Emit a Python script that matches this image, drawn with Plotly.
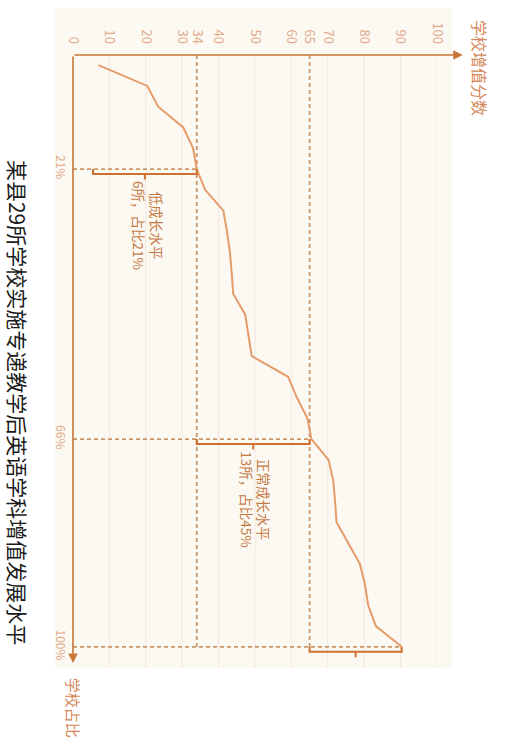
import plotly.graph_objects as go

# ---- data ----
school_rank = list(range(1, 30))
growth_score = [7.0, 20.4, 23.4, 30.3, 33.0, 34.0, 36.3, 41.3, 42.3, 43.1,
                43.6, 44.0, 47.3, 48.2, 49.1, 59.1, 61.5, 64.4, 65.5, 70.2,
                71.5, 72.0, 72.4, 75.6, 78.8, 80.2, 81.1, 83.2, 90.3]
score_ticks = [0, 10, 20, 30, 34, 40, 50, 60, 65, 70, 80, 90, 100]
grid_vals = [10, 20, 30, 40, 50, 60, 70, 80, 90, 100]
pct_rank = [6, 19, 29]
pct_labels = ["21%", "66%", "100%"]
thresholds = [34, 65]
bracket_start = [5.5, 34, 65]
bracket_end = [34, 65, 90.3]
bracket_rank = [6, 19, 29]
level_names = ["低成长水平", "正常成长水平", "高成长水平"]
level_counts = ["6所，占比21%", "13所，占比45%", "10所，占比34%"]
title = "某县29所学校实施专递教学后英语学科增值发展水平"

FONT = "Noto Sans CJK SC"
AXIS = "#c8763a"
LINE = "#e59c6a"
DASH = "#c9966a"
BRACK = "#d07030"
TICK = "#e3a98a"
LABEL = "#c47a45"

Y_TOP, Y_BOT = 0.51, 30.02

fig = go.Figure()
fig.add_trace(go.Scatter(x=growth_score, y=school_rank, mode="lines",
                         line=dict(color=LINE, width=2), hoverinfo="skip",
                         showlegend=False))

shapes = []
# beige background
shapes.append(dict(type="rect", xref="paper", yref="paper",
                   x0=-0.0495, x1=1.041, y0=0, y1=1.0767,
                   fillcolor="#fcf9f3", line=dict(width=0), layer="below"))
# grid
for g in grid_vals:
    shapes.append(dict(type="line", xref="x", yref="y", x0=g, x1=g,
                       y0=Y_TOP, y1=Y_BOT, line=dict(color="#f6e6de", width=1),
                       layer="below"))
# vertical threshold dashed lines
for t in thresholds:
    shapes.append(dict(type="line", xref="x", yref="y", x0=t, x1=t,
                       y0=Y_TOP, y1=bracket_rank[-1],
                       line=dict(color=DASH, width=1.8, dash="4px,3px"), layer="below"))
# horizontal dashed lines
for r, e in zip(bracket_rank, bracket_end):
    shapes.append(dict(type="line", xref="x", yref="y", x0=0, x1=e,
                       y0=r, y1=r,
                       line=dict(color=DASH, width=1.8, dash="4px,3px"), layer="below"))
# brackets
for s, e, r in zip(bracket_start, bracket_end, bracket_rank):
    m = (s + e) / 2
    path = (f"M {s},{r} L {s},{r+0.24} L {e},{r+0.24} L {e},{r} "
            f"M {m},{r+0.24} L {m},{r+0.5}")
    shapes.append(dict(type="path", xref="x", yref="y", path=path,
                       line=dict(color=BRACK, width=2), layer="above"))

annotations = []
# axis arrows
annotations.append(dict(x=107.1, y=Y_TOP, ax=0, ay=Y_TOP, xref="x", yref="y",
                        axref="x", ayref="y", text="", showarrow=True,
                        arrowhead=2, arrowsize=1.2, arrowwidth=1.6, arrowcolor=AXIS))
annotations.append(dict(x=0, y=29.78, ax=0, ay=Y_TOP, xref="x", yref="y",
                        axref="x", ayref="y", text="", showarrow=True,
                        arrowhead=2, arrowsize=1.2, arrowwidth=1.6, arrowcolor=AXIS))
# level texts
text_pos = [(20.6, 8.74), (50.0, 21.9), (78.3, 31.7)]
for (tx, ty), n, c in zip(text_pos, level_names, level_counts):
    annotations.append(dict(x=tx, y=ty, xref="x", yref="y", text=f"{n}<br>{c}",
                            showarrow=False, textangle=90, align="center",
                            xanchor="center", yanchor="middle",
                            font=dict(family=FONT, size=13.5, color=LABEL)))
# axis titles
annotations.append(dict(x=1.118, y=0.979, xref="paper", yref="paper", text="学校增值分数",
                        showarrow=False, textangle=90, xanchor="center", yanchor="middle",
                        font=dict(family=FONT, size=16, color="#d4875a")))
annotations.append(dict(x=0, y=-0.065, xref="paper", yref="paper", text="学校占比",
                        showarrow=False, textangle=90, xanchor="center", yanchor="middle",
                        font=dict(family=FONT, size=15, color="#d4875a")))
# chart title
annotations.append(dict(x=-0.151, y=0.434, xref="paper", yref="paper", text=title,
                        showarrow=False, textangle=90, xanchor="center", yanchor="middle",
                        font=dict(family=FONT, size=21, color="#1a1a1a")))

fig.update_layout(
    template="none",
    width=509, height=750, autosize=False,
    margin=dict(l=73, r=72, t=55, b=82, autoexpand=False),
    paper_bgcolor="white", plot_bgcolor="rgba(0,0,0,0)",
    shapes=shapes, annotations=annotations, showlegend=False,
    xaxis=dict(range=[0, 100], side="top", tickvals=score_ticks,
               ticktext=[str(v) for v in score_ticks], tickangle=90,
               showgrid=False, zeroline=False, showline=False, ticks="",
               ticklabelstandoff=8, automargin=False,
               tickfont=dict(family=FONT, size=13, color=TICK), fixedrange=True),
    yaxis=dict(range=[Y_BOT, Y_TOP], tickvals=pct_rank, ticktext=pct_labels,
               tickangle=90, showgrid=False, zeroline=False, showline=False,
               ticks="", ticklabelstandoff=4, automargin=False,
               tickfont=dict(family=FONT, size=12, color=TICK), fixedrange=True),
)

fig.write_html("out.html", config={"displayModeBar": False},
               post_script="document.body.style.margin='0';document.body.style.overflow='hidden';")
